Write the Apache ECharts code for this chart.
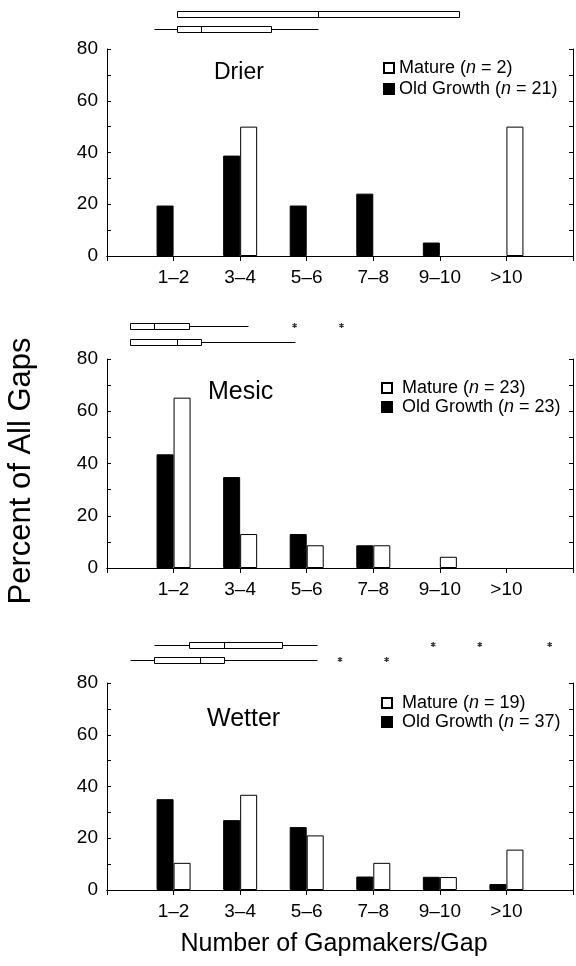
<!DOCTYPE html>
<html>
<head>
<meta charset="utf-8">
<script src="https://cdn.jsdelivr.net/npm/echarts@6/dist/echarts.min.js"></script>
<style>
  html, body { margin: 0; padding: 0; background: #fff; }
  #chart { width: 576px; height: 966px; }
</style>
</head>
<body>
<div id="chart"></div>
<script>
// Gapmaker classes (number of gapmakers per gap)
const categories = ['1–2', '3–4', '5–6', '7–8', '9–10', '>10'];

// Percent of all gaps in each class
const drierMature = [0, 50, 0, 0, 0, 50];
const drierOld = [19.5, 38.8, 19.5, 24.1, 5.2, 0];
const mesicMature = [65.2, 13.0, 8.7, 8.7, 4.3, 0];
const mesicOld = [43.5, 34.8, 13.0, 8.7, 0, 0];
const wetterMature = [10.5, 36.8, 21.1, 10.5, 5.0, 15.6];
const wetterOld = [35.1, 27.0, 24.3, 5.2, 5.1, 2.3];

// Box plot summaries: [min, Q1, median, Q3, max] gapmakers per gap
const drierMatureBox = [3, 3, 9, 15, 15];
const drierOldBox = [2, 3, 4, 7, 9];
const mesicMatureBox = [1, 1, 2, 3.5, 6];
const mesicOldBox = [1, 1, 3, 4, 8];
const wetterMatureBox = [2, 3.5, 5, 7.5, 9];
const wetterOldBox = [1, 2, 4, 5, 9];

// Outlying gaps (gapmakers per gap)
const drierMatureOut = [];
const drierOldOut = [];
const mesicMatureOut = [8, 10];
const mesicOldOut = [];
const wetterMatureOut = [14, 16, 19];
const wetterOldOut = [10, 12];

const yTicks = [0, 20, 40, 60, 80];

const panelNames = ['Drier', 'Mesic', 'Wetter'];
const matureN = [2, 23, 19];
const oldN = [21, 23, 37];

const FONT = '"Liberation Sans", Arial, Helvetica, sans-serif';

const panels = [
  { mature: drierMature, old: drierOld, mBox: drierMatureBox, oBox: drierOldBox, mOut: drierMatureOut, oOut: drierOldOut,
    top: 49, height: 207, width: 470, boxTop: 6, boxH: 31,
    title: { x: 214, y: 74, size: 23 }, legend: { left: 383, top: 59, gap: 3, pad: 0 } },
  { mature: mesicMature, old: mesicOld, mBox: mesicMatureBox, oBox: mesicOldBox, mOut: mesicMatureOut, oOut: mesicOldOut,
    top: 359, height: 209, width: 470, boxTop: 317.5, boxH: 32,
    title: { x: 208, y: 393, size: 25 }, legend: { left: 381, top: 379, gap: 1, pad: 5 } },
  { mature: wetterMature, old: wetterOld, mBox: wetterMatureBox, oBox: wetterOldBox, mOut: wetterMatureOut, oOut: wetterOldOut,
    top: 683, height: 207, width: 466, boxTop: 637, boxH: 30,
    title: { x: 207, y: 720, size: 25 }, legend: { left: 381, top: 694, gap: 1, pad: 5 } }
];

// Six-armed asterisk used for outlying gaps
function asteriskPath() {
  const L = 5, W = 1.2;
  let d = '';
  [90, 30, 150].forEach(a => {
    const r = a * Math.PI / 180, dx = Math.cos(r), dy = Math.sin(r), nx = -dy, ny = dx;
    const p = [
      [L * dx + W * nx, L * dy + W * ny],
      [L * dx - W * nx, L * dy - W * ny],
      [-L * dx - W * nx, -L * dy - W * ny],
      [-L * dx + W * nx, -L * dy + W * ny]
    ].map(q => q[0].toFixed(3) + ',' + q[1].toFixed(3));
    d += 'M' + p[0] + 'L' + p[1] + 'L' + p[2] + 'L' + p[3] + 'Z';
  });
  return 'path://' + d;
}
const ASTERISK = asteriskPath();

// Horizontal box plot: whiskers, box and median tick
function renderBox(params, api) {
  const row = api.value(0);
  const y = Math.round(api.coord([0, row])[1]) + 0.5;
  const px = i => Math.round(api.coord([api.value(i), row])[0]) + 0.5;
  const xMin = px(1), xQ1 = px(2), xMed = px(3), xQ3 = px(4), xMax = px(5);
  const h = 5;
  const line = { stroke: '#000', lineWidth: 1 };
  const children = [];
  if (xQ1 > xMin) children.push({ type: 'line', shape: { x1: xMin, y1: y, x2: xQ1, y2: y }, style: line });
  if (xMax > xQ3) children.push({ type: 'line', shape: { x1: xQ3, y1: y, x2: xMax, y2: y }, style: line });
  children.push({ type: 'rect', shape: { x: xQ1, y: y - h / 2 - 0.5, width: xQ3 - xQ1, height: h + 1 }, style: { fill: '#fff', stroke: '#000', lineWidth: 1 } });
  children.push({ type: 'line', shape: { x1: xMed, y1: y - h / 2, x2: xMed, y2: y + h / 2 }, style: line });
  return { type: 'group', children };
}

// empty classes draw no bar
const barData = arr => [null].concat(arr.map(v => (v === 0 ? '-' : v)), [null]);

const axisCats = [''].concat(categories, ['']);
const grid = [], xAxis = [], yAxis = [], series = [], legend = [], graphic = [];

panels.forEach((p, k) => {
  const mName = 'Mature (n = ' + matureN[k] + ')';
  const oName = 'Old Growth (n = ' + oldN[k] + ')';

  grid.push({ left: 107, top: p.top, width: p.width, height: p.height });
  grid.push({ left: 107, top: p.boxTop, width: p.width, height: p.boxH });
  const g = 2 * k, gb = 2 * k + 1;

  // bottom category axis with class labels
  xAxis.push({
    type: 'category', gridIndex: g, data: axisCats, boundaryGap: false, position: 'bottom',
    axisLine: { lineStyle: { color: '#000', width: 1 } },
    axisTick: { show: false },
    axisLabel: { interval: 0, color: '#000', fontSize: 19, fontFamily: FONT, margin: 12 },
    splitLine: { show: false }
  });
  // top border with inward ticks at class positions
  xAxis.push({
    type: 'category', gridIndex: g, data: axisCats, boundaryGap: false, position: 'top',
    axisLine: { lineStyle: { color: '#000', width: 1 } },
    axisTick: { show: true, inside: true, length: 5, interval: 0, lineStyle: { color: '#000' } },
    axisLabel: { show: false }, splitLine: { show: false }
  });
  // box plot scale (gapmakers per gap)
  xAxis.push({
    type: 'value', gridIndex: gb, min: 0, max: 20, show: false, splitLine: { show: false }
  });

  yAxis.push({
    type: 'value', gridIndex: g, min: 0, max: 80, interval: 10, position: 'left',
    axisLine: { show: true, lineStyle: { color: '#000', width: 1 } },
    axisTick: { show: true, inside: true, length: 4, lineStyle: { color: '#000' } },
    axisLabel: {
      color: '#000', fontSize: 19, fontFamily: FONT, margin: 9,
      formatter: v => (yTicks.indexOf(v) >= 0 ? String(v) : '')
    },
    splitLine: { show: false }
  });
  yAxis.push({
    type: 'value', gridIndex: g, min: 0, max: 80, interval: 10, position: 'right',
    axisLine: { show: true, lineStyle: { color: '#000', width: 1 } },
    axisTick: { show: true, inside: true, length: 4, lineStyle: { color: '#000' } },
    axisLabel: { show: false }, splitLine: { show: false }
  });
  yAxis.push({
    type: 'category', gridIndex: gb, data: ['Mature', 'Old Growth'], inverse: true, show: false
  });

  const xi = 3 * k, yi = 3 * k;
  series.push({
    name: oName, type: 'bar', xAxisIndex: xi, yAxisIndex: yi,
    data: barData(p.old), barWidth: 17, barGap: '0%',
    itemStyle: { color: '#000', borderColor: '#000', borderWidth: 1 },
    silent: true, animation: false
  });
  series.push({
    name: mName, type: 'bar', xAxisIndex: xi, yAxisIndex: yi,
    data: barData(p.mature), barWidth: 17, barGap: '0%',
    itemStyle: { color: '#fff', borderColor: '#000', borderWidth: 1 },
    silent: true, animation: false
  });

  series.push({
    type: 'custom', xAxisIndex: 3 * k + 2, yAxisIndex: 3 * k + 2,
    renderItem: renderBox,
    data: [[0].concat(p.mBox), [1].concat(p.oBox)],
    encode: { x: [1, 2, 3, 4, 5], y: 0 },
    silent: true, animation: false
  });
  const outs = p.mOut.map(v => [v, 0]).concat(p.oOut.map(v => [v, 1]));
  if (outs.length) {
    series.push({
      type: 'scatter', xAxisIndex: 3 * k + 2, yAxisIndex: 3 * k + 2,
      data: outs, symbol: ASTERISK, symbolSize: 5,
      itemStyle: { color: '#000' }, silent: true, animation: false
    });
  }

  legend.push({
    data: [mName, oName], orient: 'vertical', left: p.legend.left, top: p.legend.top,
    padding: 0, itemGap: p.legend.gap, itemWidth: 10, itemHeight: 10, icon: 'rect',
    selectedMode: false,
    textStyle: {
      color: '#000', fontSize: 18, fontFamily: FONT, lineHeight: 18, padding: [0, 0, 0, p.legend.pad],
      rich: {
        a: { color: '#000', fontSize: 18, fontFamily: FONT, lineHeight: 18 },
        i: { color: '#000', fontSize: 18, fontFamily: FONT, fontStyle: 'italic', lineHeight: 18 }
      }
    },
    formatter: name => {
      const m = name.match(/^(.*\()n( = .*)$/);
      return '{a|' + m[1] + '}{i|n}{a|' + m[2] + '}';
    }
  });

  graphic.push({
    type: 'text', left: p.title.x, top: p.title.y - p.title.size * 0.55,
    style: { text: panelNames[k], fill: '#000', font: p.title.size + 'px ' + FONT }
  });
});

graphic.push({
  type: 'text', x: 21, y: 471, rotation: Math.PI / 2,
  style: { text: 'Percent of All Gaps', fill: '#000', font: '31px ' + FONT, align: 'center', verticalAlign: 'middle' }
});
graphic.push({
  type: 'text', x: 334, y: 944,
  style: { text: 'Number of Gapmakers/Gap', fill: '#000', font: '25px ' + FONT, align: 'center', verticalAlign: 'middle' }
});

const chart = echarts.init(document.getElementById('chart'), null, { renderer: 'canvas' });
chart.setOption({
  backgroundColor: '#fff',
  animation: false,
  grid, xAxis, yAxis, series, legend, graphic
});
</script>
</body>
</html>
